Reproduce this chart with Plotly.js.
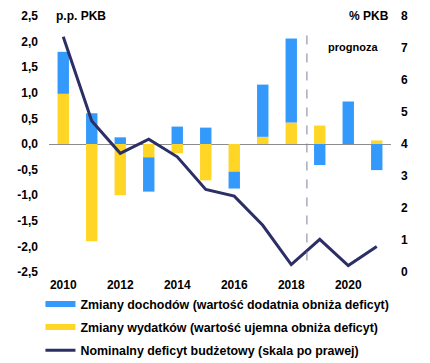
<!DOCTYPE html>
<html>
<head>
<meta charset="utf-8">
<script src="https://cdn.plot.ly/plotly-3.0.1.min.js"></script>
<style>html,body{margin:0;padding:0;background:#fff;}#chart{width:430px;height:363px;}</style>
</head>
<body>
<div id="chart"></div>
<script>
const years = [2010, 2011, 2012, 2013, 2014, 2015, 2016, 2017, 2018, 2019, 2020, 2021];
const wydatki = [0.98, -1.90, -1.00, -0.26, -0.18, -0.71, -0.54, 0.14, 0.42, 0.36, 0.00, 0.07];
const dochody = [0.82, 0.60, 0.13, -0.67, 0.34, 0.32, -0.33, 1.02, 1.64, -0.41, 0.83, -0.51];
const deficyt = [7.35, 4.72, 3.71, 4.15, 3.60, 2.58, 2.37, 1.46, 0.23, 1.02, 0.20, 0.80];
const leftTicks = [2.5, 2.0, 1.5, 1.0, 0.5, 0.0, -0.5, -1.0, -1.5, -2.0, -2.5];
const leftTickText = ['2,5', '2,0', '1,5', '1,0', '0,5', '0,0', '-0,5', '-1,0', '-1,5', '-2,0', '-2,5'];
const rightTicks = [0, 1, 2, 3, 4, 5, 6, 7, 8];
const xTicks = [2010, 2012, 2014, 2016, 2018, 2020];
const names = ['Zmiany dochodów (wartość dodatnia obniża deficyt)', 'Zmiany wydatków (wartość ujemna obniża deficyt)', 'Nominalny deficyt budżetowy (skala po prawej)'];

const BLUE = '#3399fb', YELLOW = '#ffd526', NAVY = '#2b2f66';
const FONT = 'Liberation Sans, Arial, sans-serif';

const traces = [
  {type: 'bar', x: years, y: wydatki, marker: {color: YELLOW}, width: 0.4, showlegend: false, hoverinfo: 'skip'},
  {type: 'bar', x: years, y: dochody, marker: {color: BLUE}, width: 0.4, showlegend: false, hoverinfo: 'skip'},
  {type: 'scatter', mode: 'lines', x: years, y: deficyt, yaxis: 'y2', line: {color: NAVY, width: 3}, showlegend: false},
  {type: 'scatter', mode: 'lines', x: [null], y: [null], name: '<b>' + names[0] + '</b>', line: {color: BLUE, width: 6}, legendgroup: 'a'},
  {type: 'scatter', mode: 'lines', x: [null], y: [null], name: '<b>' + names[1] + '</b>', line: {color: YELLOW, width: 6}, legendgroup: 'b'},
  {type: 'scatter', mode: 'lines', x: [null], y: [null], name: '<b>' + names[2] + '</b>', line: {color: NAVY, width: 3}, legendgroup: 'c'}
];

const layout = {
  width: 430, height: 363,
  margin: {l: 49, r: 39, t: 16, b: 91, pad: 0, autoexpand: false},
  paper_bgcolor: '#fff', plot_bgcolor: '#fff',
  barmode: 'relative',
  font: {family: FONT, size: 12, color: '#000', weight: 'bold'},
  xaxis: {range: [2009.5, 2021.5], tickvals: xTicks, ticktext: xTicks.map(String), showgrid: false, zeroline: false, showline: false, ticks: '', ticklabelstandoff: 4, tickfont: {family: FONT, size: 12, weight: 'bold'}},
  yaxis: {range: [-2.5, 2.5], tickvals: leftTicks, ticktext: leftTickText, showgrid: false, zeroline: true, zerolinecolor: '#8c8c8c', zerolinewidth: 1, showline: false, ticks: '', ticklabelstandoff: 10, tickfont: {family: FONT, size: 12, weight: 'bold'}},
  yaxis2: {range: [0, 8], tickvals: rightTicks, overlaying: 'y', side: 'right', showgrid: false, zeroline: false, showline: false, ticks: '', ticklabelstandoff: 9, tickfont: {family: FONT, size: 12, weight: 'bold'}},
  legend: {x: -0.025, y: -0.068, xanchor: 'left', yanchor: 'top', traceorder: 'grouped', tracegroupgap: 4, font: {family: FONT, size: 12.4, weight: 'bold'}, bgcolor: 'rgba(0,0,0,0)', itemwidth: 30},
  shapes: [{type: 'line', xref: 'x', yref: 'paper', x0: 2018.55, x1: 2018.55, y0: 0.045, y1: 0.955, line: {color: '#7d8199', width: 1, dash: 'dash'}}],
  annotations: [
    {xref: 'paper', yref: 'paper', x: 0.094, y: 1.0, text: 'p.p. PKB', showarrow: false, xanchor: 'center', yanchor: 'middle', font: {family: FONT, size: 12, weight: 'bold'}},
    {xref: 'paper', yref: 'paper', x: 1.0, y: 1.0, text: '% PKB', showarrow: false, xanchor: 'right', yanchor: 'middle', font: {family: FONT, size: 12, weight: 'bold'}},
    {xref: 'paper', yref: 'paper', x: 0.89, y: 0.877, text: 'prognoza', showarrow: false, xanchor: 'center', yanchor: 'middle', font: {family: FONT, size: 11, weight: 'bold'}}
  ]
};

Plotly.newPlot('chart', traces, layout, {displayModeBar: false, staticPlot: true});
</script>
</body>
</html>
